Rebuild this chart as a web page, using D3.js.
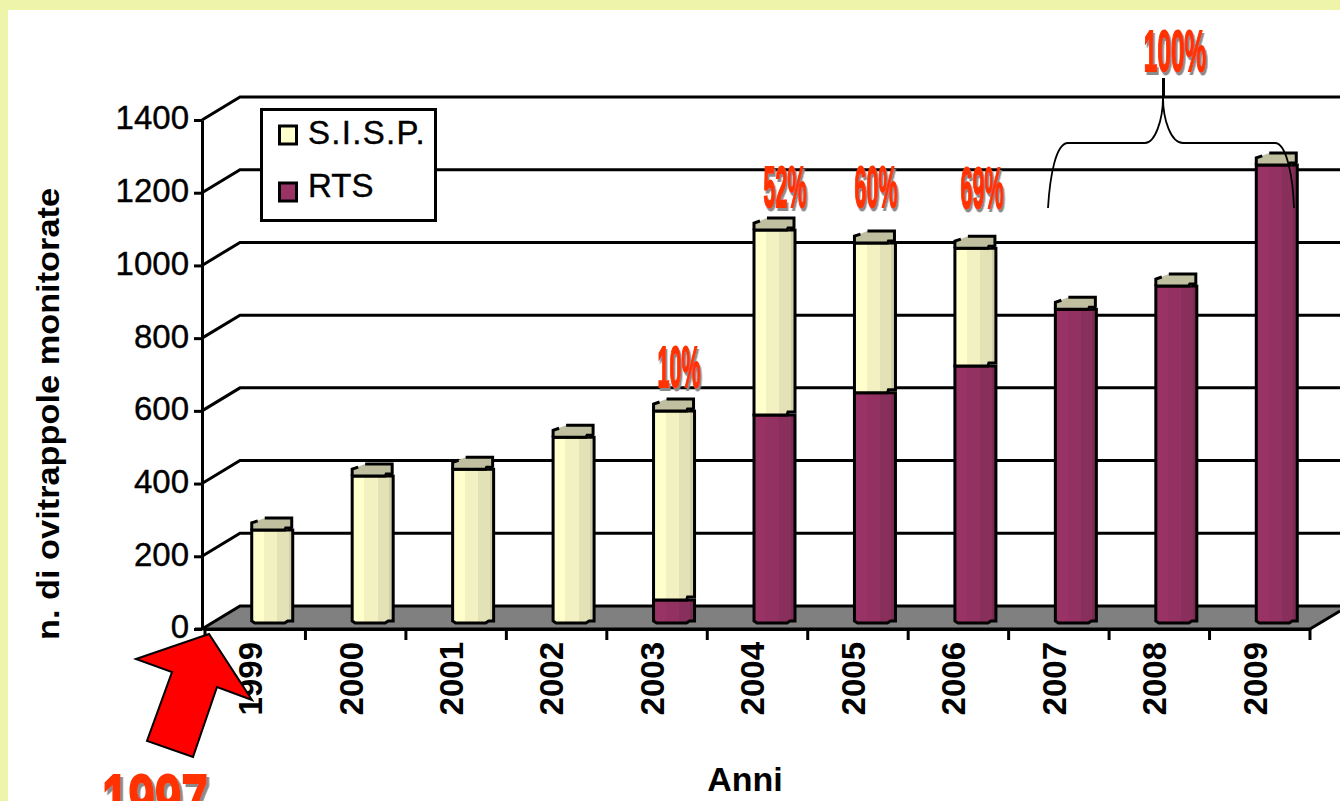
<!DOCTYPE html>
<html><head><meta charset="utf-8">
<script src="https://cdnjs.cloudflare.com/ajax/libs/d3/7.8.5/d3.min.js"></script>
<style>
html,body{margin:0;padding:0;background:#fff;overflow:hidden}
svg{display:block}
text{font-family:"Liberation Sans",Arial,sans-serif;fill:#000}
</style></head><body>
<svg id="c" width="1340" height="801"></svg>
<script>
const years=["1999","2000","2001","2002","2003","2004","2005","2006","2007","2008","2009"];
const sisp=[256,404,423,511,520,509,412,324,0,0,0];
const rts=[0,0,0,0,63,572,633,707,863,927,1260];
const yTicks=[0,200,400,600,800,1000,1200,1400];
const pctLabels=["10%","52%","60%","69%"];

const svg=d3.select("#c");
const W=1340,H=801;
svg.append("rect").attr("width",W).attr("height",H).attr("fill","#EEF5AB");
svg.append("rect").attr("x",8).attr("y",10).attr("width",W-8).attr("height",H-10).attr("fill","#fff");

const y=d3.scaleLinear().domain([0,1400]).range([629,120]);
const x=d3.scaleBand().domain(years).range([205,1310]);
const dx=38,dy=-23,axisX=202;
const barW=41,barBase=6;

const defs=svg.append("defs");
function grad(id,c){
  const g=defs.append("linearGradient").attr("id",id);
  [[0,c[0]],[.3,c[0]],[.3,c[1]],[.62,c[1]],[.62,c[2]],[.9,c[2]],[.9,c[3]],[1,c[3]]]
   .forEach(s=>g.append("stop").attr("offset",s[0]).attr("stop-color",s[1]));
}
grad("gS",["#FFFFCC","#F3F1C1","#E3E1B6","#D2D0A8"]);
grad("gR",["#993366","#923162","#882F5B","#7B2B52"]);

const floorY=y(0);
svg.append("path").attr("d",`M${axisX},${floorY}L${axisX+dx},${floorY+dy}L1350,${floorY+dy}L1310,${floorY}Z`)
  .attr("fill","#808080");
const grid=svg.append("g").attr("fill","none").attr("stroke","#000").attr("stroke-width",3);
yTicks.forEach(t=>{
  grid.append("path").attr("d",`M${axisX},${y(t)}L${axisX+dx},${y(t)+dy}L${W},${y(t)+dy}`);
});

const yAxis=svg.append("g").attr("transform",`translate(${axisX},0)`)
  .call(d3.axisLeft(y).tickValues(yTicks).tickSize(8).tickPadding(5).tickSizeOuter(0).tickFormat(d3.format("d")));
yAxis.selectAll("path,line").attr("stroke","#000").attr("stroke-width",3);
yAxis.selectAll("text").attr("font-size",33).attr("dy",".27em").style("font-family",'"Liberation Sans"')
  .attr("fill","#000").attr("stroke","#000").attr("stroke-width",.4);

const xAxis=svg.append("g").attr("transform",`translate(0,${floorY})`)
  .call(d3.axisBottom(x).tickSize(0).tickSizeOuter(0));
xAxis.select("path").attr("stroke","#000").attr("stroke-width",3);
xAxis.selectAll("text")
  .attr("transform","translate(-5,13) rotate(-90)")
  .attr("x",0).attr("y",0).attr("dy",".36em").attr("text-anchor","end")
  .attr("font-size",33).attr("font-weight","bold").style("font-family",'"Liberation Sans"').attr("fill","#000");
svg.append("g").selectAll("line").data(years.concat(["end"])).join("line")
  .attr("x1",d=>d==="end"?1310:x(d)).attr("x2",d=>d==="end"?1310:x(d))
  .attr("y1",floorY).attr("y2",floorY+11).attr("stroke","#000").attr("stroke-width",3);
svg.append("path").attr("d",`M1310,${floorY}L1340,${floorY-18}`).attr("stroke","#000").attr("stroke-width",3).attr("fill","none");
svg.append("path").attr("d",`M${axisX-7},${floorY}H1310`).attr("stroke","#000").attr("stroke-width",3);

const barY=v=>y(v)-barBase;
const left=d=>x(d)+x.bandwidth()/2+17-barW/2;
const bars=svg.append("g");
years.forEach((yr,i)=>{
  const l=left(yr),r=l+barW;
  const r0=rts[i],s0=sisp[i],total=r0+s0;
  const seg=(lo,hi,fill)=>{
    const yl=barY(lo),yh=barY(hi);
    bars.append("path")
      .attr("d",lo===0?`M${l},${yh}V${yl-2}L${l+3},${yl}H${r-8}L${r-5},${yl-2}H${r}V${yh}Z`:`M${l},${yh}V${yl}H${r-8}L${r-7},${yl-3}H${r}V${yh}Z`)
      .attr("fill",fill).attr("stroke","#000").attr("stroke-width",3);
  };
  if(r0>0) seg(0,r0,"url(#gR)");
  if(s0>0) seg(r0,total,"url(#gS)");
  const t=barY(total);
  bars.append("path")
    .attr("d",`M${l},${t}V${t-7}L${l+13},${t-12}H${r-2}L${r},${t-10}V${t-3}L${r-7},${t}Z`)
    .attr("fill","#C0C0A0");
  bars.append("path")
    .attr("d",`M${l},${t}H${r-8}L${r-7},${t-2}H${r}M${l},${t}V${t-7}L${l+6},${t-9}M${l+13},${t-12}H${r-1}V${t-2}`)
    .attr("fill","none").attr("stroke","#000").attr("stroke-width",3);
});

const lg=svg.append("g");
lg.append("rect").attr("x",261.5).attr("y",109.5).attr("width",174).attr("height",111)
  .attr("fill","#fff").attr("stroke","#000").attr("stroke-width",3);
[["S.I.S.P.","#FFFFCC",135,144,1.3],["RTS","#993366",192,197,0]].forEach(e=>{
  lg.append("rect").attr("x",279.5).attr("y",e[2]-9).attr("width",17).attr("height",18)
    .attr("fill",e[1]).attr("stroke","#000").attr("stroke-width",3);
  lg.append("text").attr("x",308).attr("y",e[3]).attr("font-size",33)
    .attr("letter-spacing",e[4]).attr("stroke","#000").attr("stroke-width",.4).text(e[0]);
});

svg.append("text").attr("transform","translate(59,414) rotate(-90)").attr("text-anchor","middle")
  .attr("font-size",31).attr("font-weight","bold").attr("textLength",452).attr("lengthAdjust","spacingAndGlyphs")
  .text("n. di ovitrappole monitorate");
svg.append("text").attr("x",745).attr("y",791).attr("text-anchor","middle")
  .attr("font-size",34).attr("font-weight","bold").text("Anni");

const f=defs.append("filter").attr("id","sh").attr("x","-20%").attr("y","-20%").attr("width","150%").attr("height","150%");
f.append("feDropShadow").attr("dx",4).attr("dy",3).attr("stdDeviation",.6).attr("flood-color","#8a8a8a");

function wordArt(txt,cx,base,size,sx){
  svg.append("text").attr("transform",`translate(${cx},${base}) scale(${sx},1)`)
    .attr("text-anchor","middle").attr("font-size",size).attr("font-weight","bold")
    .attr("filter","url(#sh)").style("fill","#FF3300").attr("stroke","#FF3300").attr("stroke-width",2).text(txt);
}
wordArt(pctLabels[0],679,387,58,.37);
wordArt(pctLabels[1],785,207,58,.37);
wordArt(pctLabels[2],876,207,58,.37);
wordArt(pctLabels[3],982,208,58,.37);
wordArt("100%",1175,71,58,.42);
wordArt("1997",155,824,70,.68);

svg.append("path").attr("fill","none").attr("stroke","#000").attr("stroke-width",1.8)
 .attr("d","M1048,208C1050,175 1056,143 1068,143H1145C1155,143 1163,120 1163,97C1163,120 1171,143 1183,143H1275C1286,143 1293,175 1294,208");
svg.append("path").attr("d","M1163.5,78V97").attr("stroke","#000").attr("stroke-width",3);

svg.append("path").attr("d","M136,659L209,634L252,700L217,687L193,757L147,741L172,672Z")
  .attr("fill","#FF0000").attr("stroke","#000").attr("stroke-width",2);
</script>
</body></html>
